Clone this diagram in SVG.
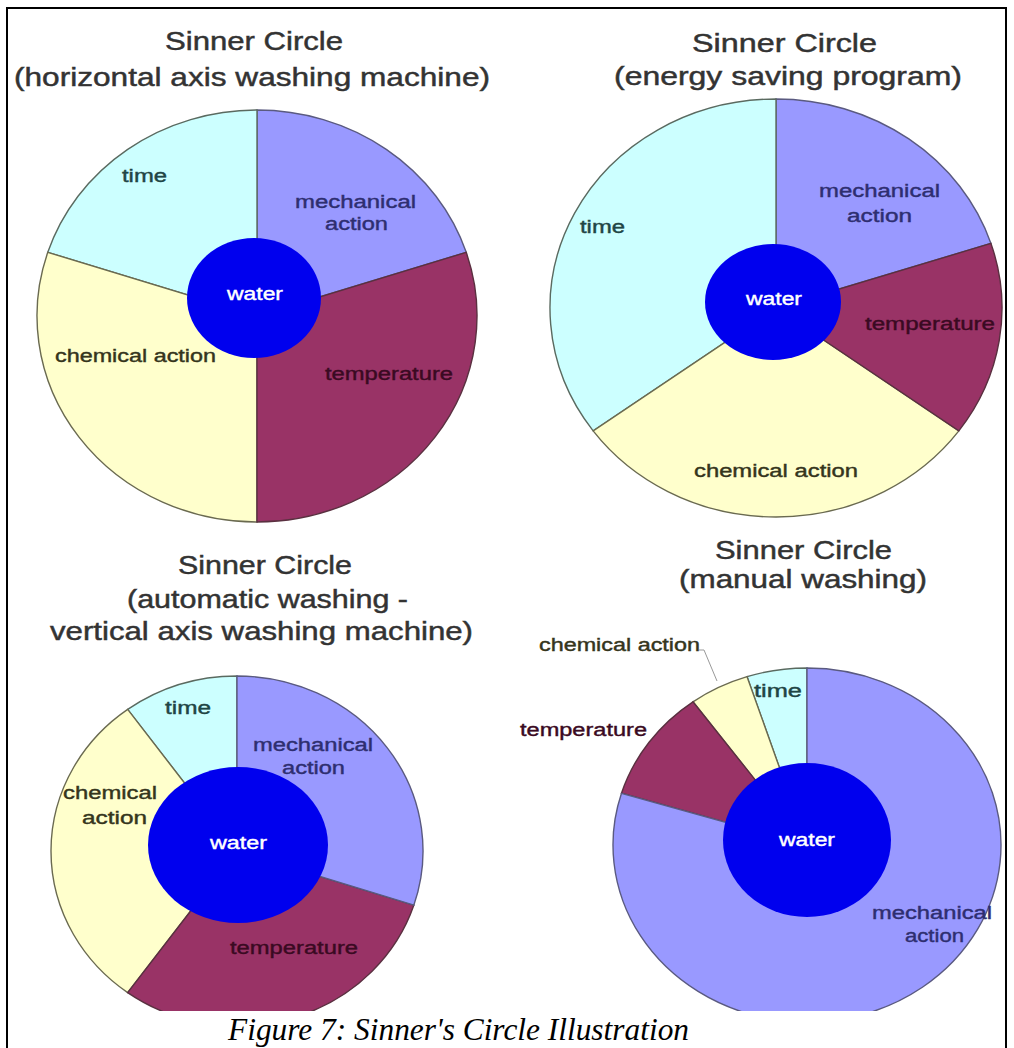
<svg xmlns="http://www.w3.org/2000/svg" width="1014" height="1048" viewBox="0 0 1014 1048">
<style>
.title{font-family:"Liberation Sans",Arial,sans-serif;font-size:25px;fill:#333;stroke:#333;stroke-width:0.45;}
.lbl{font-family:"Liberation Sans",Arial,sans-serif;font-size:18px;stroke-width:0.4;}
.time{fill:#ccffff;stroke:#5a6a60;stroke-width:1.4;}
.mech{fill:#9999ff;stroke:#5a5a80;stroke-width:1.4;}
.temp{fill:#993366;stroke:#5a3040;stroke-width:1.4;}
.chem{fill:#ffffcc;stroke:#6a6a50;stroke-width:1.4;}
.water{fill:#0000ee;}
.t-time{fill:#1f4545;stroke:#1f4545;}
.t-mech{fill:#2e2e70;stroke:#2e2e70;}
.t-temp{fill:#3a0a22;stroke:#3a0a22;}
.t-chem{fill:#35351c;stroke:#35351c;}
.t-water{fill:#ffffff;stroke:#ffffff;}
.cap{font-family:"Liberation Serif","Times New Roman",serif;font-style:italic;font-size:32px;fill:#000;}
</style>
<defs>
<clipPath id="clipBottom"><rect x="0" y="0" width="1014" height="1011"/></clipPath>
</defs>
<rect x="0" y="0" width="1014" height="1048" fill="#ffffff"/>
<rect x="7" y="8" width="999" height="1070" fill="none" stroke="#000" stroke-width="2"/>

<g id="chart1">
<text class="title" x="165" y="50" textLength="178" lengthAdjust="spacingAndGlyphs">Sinner Circle</text>
<text class="title" x="14" y="86" textLength="476" lengthAdjust="spacingAndGlyphs">(horizontal axis washing machine)</text>
<path class="mech" d="M257,316 L466.23,252.34 A220,206 0 0 0 257,110 Z"/>
<path class="time" d="M257,316 L257,110 A220,206 0 0 0 47.77,252.34 Z"/>
<path class="chem" d="M257,316 L47.77,252.34 A220,206 0 0 0 257,522 Z"/>
<path class="temp" d="M257,316 L257,522 A220,206 0 0 0 466.23,252.34 Z"/>
<ellipse class="water" cx="254" cy="298" rx="67" ry="60"/>
<text class="lbl t-time" x="122" y="182" textLength="45" lengthAdjust="spacingAndGlyphs">time</text>
<text class="lbl t-mech" x="295" y="208" textLength="121" lengthAdjust="spacingAndGlyphs">mechanical</text>
<text class="lbl t-mech" x="325" y="230" textLength="63" lengthAdjust="spacingAndGlyphs">action</text>
<text class="lbl t-water" x="227" y="300" textLength="56" lengthAdjust="spacingAndGlyphs">water</text>
<text class="lbl t-chem" x="55" y="362" textLength="161" lengthAdjust="spacingAndGlyphs">chemical action</text>
<text class="lbl t-temp" x="325" y="380" textLength="128" lengthAdjust="spacingAndGlyphs">temperature</text>
</g>

<g id="chart2">
<text class="title" x="692" y="52" textLength="185" lengthAdjust="spacingAndGlyphs">Sinner Circle</text>
<text class="title" x="614" y="85" textLength="348" lengthAdjust="spacingAndGlyphs">(energy saving program)</text>
<path class="mech" d="M776,308 L990.94,243.42 A226,209 0 0 0 776,99 Z"/>
<path class="time" d="M776,308 L776,99 A226,209 0 0 0 593.16,430.85 Z"/>
<path class="chem" d="M776,308 L593.16,430.85 A226,209 0 0 0 958.84,430.85 Z"/>
<path class="temp" d="M776,308 L958.84,430.85 A226,209 0 0 0 990.94,243.42 Z"/>
<ellipse class="water" cx="773" cy="302" rx="68" ry="58"/>
<text class="lbl t-time" x="580" y="233" textLength="45" lengthAdjust="spacingAndGlyphs">time</text>
<text class="lbl t-mech" x="819" y="197" textLength="121" lengthAdjust="spacingAndGlyphs">mechanical</text>
<text class="lbl t-mech" x="847" y="222" textLength="65" lengthAdjust="spacingAndGlyphs">action</text>
<text class="lbl t-water" x="746" y="305" textLength="56" lengthAdjust="spacingAndGlyphs">water</text>
<text class="lbl t-temp" x="865" y="330" textLength="130" lengthAdjust="spacingAndGlyphs">temperature</text>
<text class="lbl t-chem" x="694" y="477" textLength="164" lengthAdjust="spacingAndGlyphs">chemical action</text>
</g>

<g id="chart3">
<text class="title" x="178" y="574" textLength="174" lengthAdjust="spacingAndGlyphs">Sinner Circle</text>
<text class="title" x="127" y="608" textLength="281" lengthAdjust="spacingAndGlyphs">(automatic washing -</text>
<text class="title" x="50" y="640" textLength="423" lengthAdjust="spacingAndGlyphs">vertical axis washing machine)</text>
<g clip-path="url(#clipBottom)">
<path class="time" d="M237,851 L237,676 A186,175 0 0 0 127.67,709.42 Z"/>
<path class="chem" d="M237,851 L127.67,709.42 A186,175 0 0 0 127.67,992.58 Z"/>
<path class="temp" d="M237,851 L127.67,992.58 A186,175 0 0 0 413.90,905.08 Z"/>
<path class="mech" d="M237,851 L413.90,905.08 A186,175 0 0 0 237,676 Z"/>
<ellipse class="water" cx="238" cy="845" rx="90" ry="78"/>
</g>
<text class="lbl t-time" x="165" y="714" textLength="46" lengthAdjust="spacingAndGlyphs">time</text>
<text class="lbl t-mech" x="253" y="751" textLength="120" lengthAdjust="spacingAndGlyphs">mechanical</text>
<text class="lbl t-mech" x="282" y="774" textLength="63" lengthAdjust="spacingAndGlyphs">action</text>
<text class="lbl t-chem" x="63" y="799" textLength="94" lengthAdjust="spacingAndGlyphs">chemical</text>
<text class="lbl t-chem" x="82" y="824" textLength="65" lengthAdjust="spacingAndGlyphs">action</text>
<text class="lbl t-water" x="210" y="849" textLength="57" lengthAdjust="spacingAndGlyphs">water</text>
<text class="lbl t-temp" x="230" y="954" textLength="128" lengthAdjust="spacingAndGlyphs">temperature</text>
</g>

<g id="chart4">
<text class="title" x="715" y="559" textLength="177" lengthAdjust="spacingAndGlyphs">Sinner Circle</text>
<text class="title" x="679" y="588" textLength="248" lengthAdjust="spacingAndGlyphs">(manual washing)</text>
<g clip-path="url(#clipBottom)">
<path class="time" d="M807,845 L807,668 A194,177 0 0 0 747.05,676.66 Z"/>
<path class="chem" d="M807,845 L747.05,676.66 A194,177 0 0 0 692.97,701.80 Z"/>
<path class="temp" d="M807,845 L692.97,701.80 A194,177 0 0 0 621.48,793.25 Z"/>
<path class="mech" d="M807,845 L621.48,793.25 A194,177 0 1 0 807,668 Z"/>
<ellipse class="water" cx="807" cy="840" rx="84" ry="77"/>
</g>
<text class="lbl t-chem" x="539" y="651" textLength="161" lengthAdjust="spacingAndGlyphs">chemical action</text>
<text class="lbl t-time" x="754" y="697" textLength="48" lengthAdjust="spacingAndGlyphs">time</text>
<text class="lbl t-temp" x="520" y="736" textLength="127" lengthAdjust="spacingAndGlyphs">temperature</text>
<text class="lbl t-water" x="779" y="846" textLength="56" lengthAdjust="spacingAndGlyphs">water</text>
<text class="lbl t-mech" x="872" y="919" textLength="120" lengthAdjust="spacingAndGlyphs">mechanical</text>
<text class="lbl t-mech" x="905" y="942" textLength="59" lengthAdjust="spacingAndGlyphs">action</text>
</g>

<g id="connectors">
<polyline points="699,650 704,650 717,681" fill="none" stroke="#999" stroke-width="1"/>
</g>

<text class="cap" x="228" y="1040" textLength="461" lengthAdjust="spacingAndGlyphs">Figure 7: Sinner's Circle Illustration</text>
</svg>
